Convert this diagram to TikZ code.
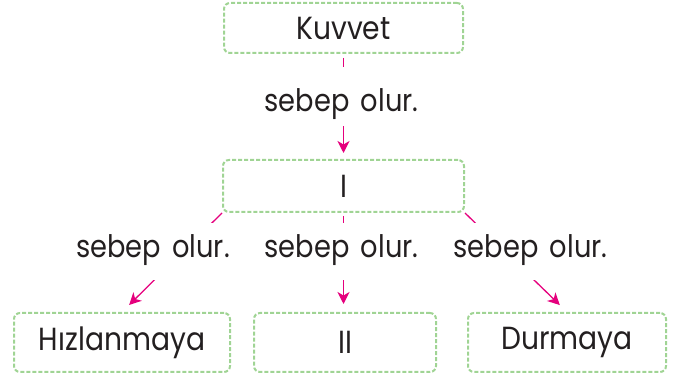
\documentclass[tikz,border=0pt]{standalone}
\usepackage{fontspec}
\setmainfont{Poppins}[FakeStretch=0.88]
\usetikzlibrary{arrows.meta}
\definecolor{yesil}{RGB}{160,212,148}
\definecolor{pembe}{RGB}{229,0,125}
\definecolor{yazi}{RGB}{35,31,32}
\tikzset{
  kutu/.style={draw=yesil, line width=2pt, dash pattern=on 4pt off 2pt,
    rounded corners=6pt, inner sep=0pt, text=yazi, font=\fontsize{32}{38}\selectfont},
  ok/.style={draw=pembe, line width=1.3pt, -{Stealth[length=12pt,width=12pt,inset=3.5pt]}},
  etiket/.style={fill=white, inner xsep=4pt, inner ysep=0pt, text=yazi,
    font=\fontsize{31}{36}\selectfont, anchor=base},
}
\begin{document}
\begin{tikzpicture}[x=1pt,y=-1pt]
\useasboundingbox (0,0) rectangle (678,379);
\node[kutu, minimum width=239pt, minimum height=50pt] (kuvvet) at (343.5,28) {Kuvvet};
\node[kutu, minimum width=241pt, minimum height=52pt] (bir) at (343.5,186) {I};
\node[kutu, minimum width=216pt, minimum height=59pt] (hiz) at (122,342.5) {Hızlanmaya};
\node[kutu, minimum width=182pt, minimum height=59pt] (iki) at (345,342.5) {II};
\node[kutu, minimum width=198pt, minimum height=59pt] (dur) at (567,342.5) {Durmaya};

\draw[ok, shorten <=4pt, shorten >=6pt] (kuvvet.south) -- (bir.north);
\draw[ok, shorten >=10pt] (bir.south west) -- (hiz.north);
\draw[ok, shorten <=3pt, shorten >=8pt] (bir.south) -- (bir.south |- iki.north);
\draw[ok, shorten >=10pt] (bir.south east) -- (dur.north);

\node[etiket, text height=45pt, text depth=14pt] (e1) at (341.5,112) {sebep\hspace{4pt} olur.};
\node[etiket, text height=35pt, text depth=22pt] (e2) at (153,258) {sebep\hspace{4pt} olur.};
\node[etiket, text height=35pt, text depth=22pt] (e3) at (341.5,258) {sebep\hspace{4pt} olur.};
\node[etiket, text height=35pt, text depth=22pt] (e4) at (530.5,258) {sebep\hspace{4pt} olur.};
\end{tikzpicture}
\end{document}
